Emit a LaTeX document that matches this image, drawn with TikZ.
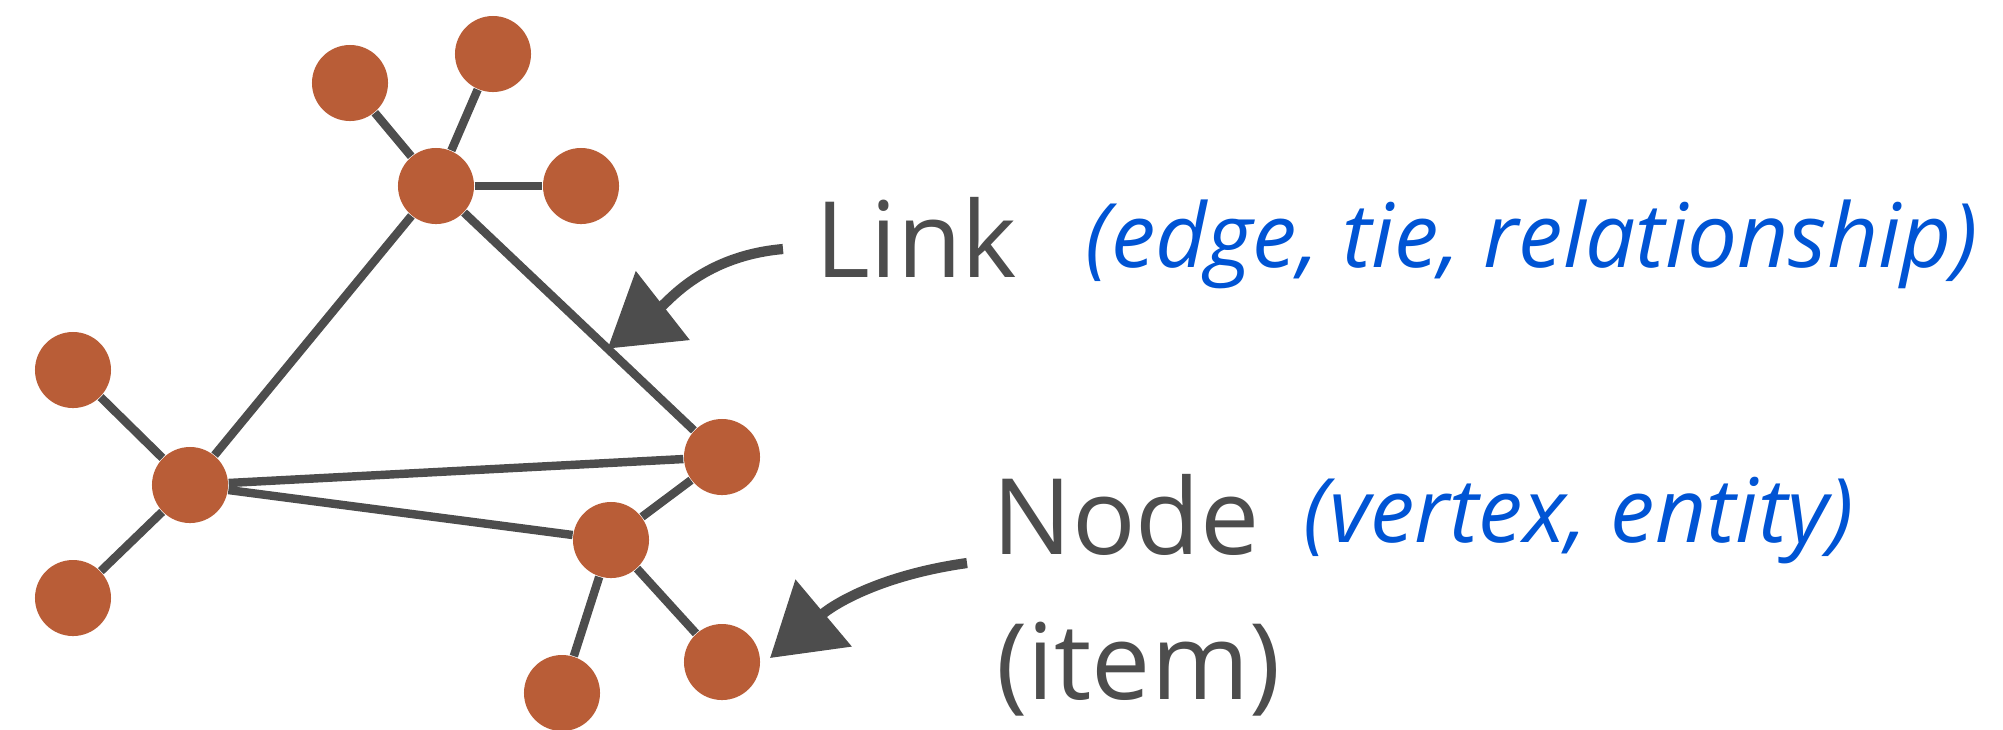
\documentclass[tikz,border=0pt]{standalone}
\usepackage{fontspec}
\newfontfamily\termfont{Open Sans}
\newfontfamily\aliasfont{Open Sans}
\usetikzlibrary{arrows.meta, positioning, calc, backgrounds}
\definecolor{nodeorange}{RGB}{185, 93, 55}
\definecolor{linkgray}{RGB}{77, 77, 77}
\definecolor{aliasblue}{RGB}{0, 84, 212}

\begin{document}
\begin{tikzpicture}[
    x=0.01cm, y=-0.01cm,
    vertex/.style={circle, fill=nodeorange, draw=none, minimum size=0.76cm, inner sep=0pt},
    link/.style={draw=linkgray, line width=2.4pt},
    callout/.style={draw=linkgray, line width=2.9pt, -{Triangle[length=0.7cm, width=0.85cm]}},
    term/.style={text=linkgray, font=\termfont\fontsize{30}{36}\selectfont, inner sep=0pt, anchor=base west},
    alias/.style={text=aliasblue, font=\aliasfont\itshape\fontsize{25.3}{30}\selectfont, inner sep=0pt, anchor=base west}
]
\useasboundingbox (0,0) rectangle (2003,729);

% Top hub and its leaves
\node[vertex] (tophub) at (436,186) {};
\node[vertex] (topleft) at (350,83) {};
\node[vertex] (topup) at (493,54) {};
\node[vertex] (topright) at (581,186) {};

% Left hub and its leaves
\node[vertex] (lefthub) at (190,485) {};
\node[vertex] (leftup) at (73,370) {};
\node[vertex] (leftdown) at (73,598) {};

% Right side
\node[vertex] (rightnode) at (722,457) {};
\node[vertex] (lowhub) at (611,540) {};
\node[vertex] (lowleaf) at (562,693) {};
\node[vertex] (lowright) at (722,662) {};

% Links
\begin{pgfonlayer}{background}
\draw[link] (tophub) -- (topleft);
\draw[link] (tophub) -- (topup);
\draw[link] (tophub) -- (topright);
\draw[link] (tophub) -- (lefthub);
\draw[link] (tophub) -- (rightnode);
\draw[link] (lefthub) -- (leftup);
\draw[link] (lefthub) -- (leftdown);
\draw[link] (lefthub) -- (rightnode);
\draw[link] (lefthub) -- (lowhub);
\draw[link] (rightnode) -- (lowhub);
\draw[link] (lowhub) -- (lowleaf);
\draw[link] (lowhub) -- (lowright);
\end{pgfonlayer}

% Labels
\node[term] (linklabel) at (815,277) {Link};
\node[alias] (linkalias) at (1085,267) {(edge, tie, relationship)};
\node[term] (nodelabel) at (992,554) {Node};
\node[term] (itemlabel) at (996,699) {(item)};
\node[alias] (nodealias) at (1303,542) {(vertex, entity)};

% Callout arrows
\coordinate (linktail) at (783,249);
\coordinate (linktip) at ($(tophub)!0.6!(rightnode)$);
\coordinate (nodetail) at (967,563);
\coordinate (nodetip) at (770,658);
\draw[callout] (linktail) to[out=185, in=38] (linktip);
\draw[callout] (nodetail) to[out=188, in=40] (nodetip);

\end{tikzpicture}
\end{document}
